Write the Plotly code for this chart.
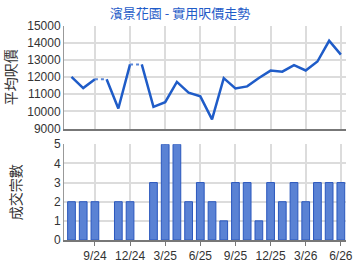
import plotly.graph_objects as go

months = ["7/24", "8/24", "9/24", "10/24", "11/24", "12/24", "1/25", "2/25", "3/25", "4/25",
          "5/25", "6/25", "7/25", "8/25", "9/25", "10/25", "11/25", "12/25", "1/26", "2/26",
          "3/26", "4/26", "5/26", "6/26"]
avg_price = [12010, 11360, 11880, 11880, 10170, 12740, 12740, 10270, 10540, 11720,
             11090, 10880, 9540, 11940, 11340, 11460, 11950, 12380, 12320, 12700,
             12390, 12910, 14120, 13310]
deals = [2, 2, 2, 0, 2, 2, 0, 3, 5, 5, 2, 3, 2, 1, 3, 3, 1, 3, 2, 3, 2, 3, 3, 3]
tick_labels = ["9/24", "12/24", "3/25", "6/25", "9/25", "12/25", "3/26", "6/26"]

idx = list(range(len(months)))
tickvals = [months.index(t) for t in tick_labels]

# solid segments break before months without deals (carried forward values -> dotted)
sx, sy, dx, dy = [], [], [], []
for i in idx:
    if i > 0 and deals[i] == 0:
        sx.append(None); sy.append(None)
        dx += [i - 1, i, None]; dy += [avg_price[i - 1], avg_price[i], None]
    sx.append(i); sy.append(avg_price[i])

bar_y = [d if d > 0 else None for d in deals]

blue = "#1f5cc8"
fig = go.Figure()
fig.add_trace(go.Scatter(x=sx, y=sy, mode="lines", line=dict(color=blue, width=2.5),
                         connectgaps=False, xaxis="x", yaxis="y", hoverinfo="skip"))
fig.add_trace(go.Scatter(x=dx, y=dy, mode="lines", line=dict(color="#5a86d8", width=2, dash="dot"),
                         xaxis="x", yaxis="y", hoverinfo="skip"))
fig.add_trace(go.Bar(x=idx, y=bar_y, width=0.66,
                     marker=dict(color="#5a82d4", line=dict(color="#2a57bd", width=1)),
                     xaxis="x2", yaxis="y2"))

L, R, T, B = 64, 7, 25, 26
H = 270 - T - B

def py(pix):
    return (270 - B - pix) / H

grid = "#dcdcdc"
tfont = dict(family="Arial, Liberation Sans", size=12, color="#333333")
xcommon = dict(range=[-0.64, 23.44], tickmode="array", tickvals=tickvals, showgrid=True,
               gridcolor=grid, gridwidth=1.5, zeroline=False, showline=True,
               linecolor="#777777", linewidth=2, ticks="outside", ticklen=4,
               tickcolor="#777777", tickfont=tfont)

fig.update_layout(
    width=360, height=270, margin=dict(l=L, r=R, t=T, b=B),
    paper_bgcolor="white", plot_bgcolor="white", showlegend=False,
    title=dict(text="濱景花園 - 實用呎價走勢", x=0.5, xanchor="center", y=1 - 13 / 270, yanchor="middle",
               font=dict(family="Noto Sans CJK TC", size=13, color="#1f5cc8")),
    xaxis=dict(xcommon, domain=[0, 1], anchor="y", showticklabels=False, ticks=""),
    xaxis2=dict(xcommon, domain=[0, 1], anchor="y2", ticktext=tick_labels),
    yaxis=dict(domain=[py(130.5), py(25.7)], range=[9000, 15000], dtick=1000, tickformat="d",
               showgrid=True, gridcolor=grid, gridwidth=1.5, zeroline=False, showline=True,
               linecolor="#999999", tickfont=tfont,
               title=dict(text="平均呎價", standoff=8,
                          font=dict(family="Noto Sans CJK TC", size=14, color="#333333"))),
    yaxis2=dict(domain=[0, py(146.5)], range=[0, 5], dtick=1, showgrid=True,
                gridcolor=grid, gridwidth=1.5, zeroline=False, showline=True, linecolor="#999999",
                tickfont=tfont,
                title=dict(text="成交宗數", standoff=28,
                           font=dict(family="Noto Sans CJK TC", size=14, color="#333333"))),
    bargap=0.3,
)

fig.write_html("out.html")
